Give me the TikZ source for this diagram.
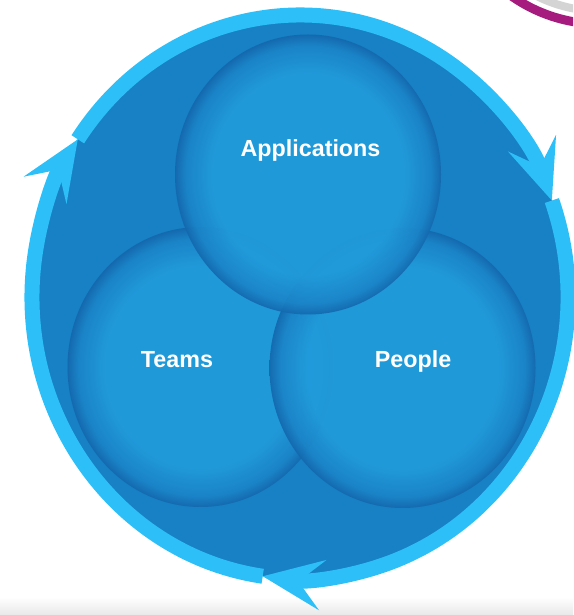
\documentclass[tikz,border=0pt]{standalone}
\usepackage{fontspec}
\setmainfont{Liberation Sans}
\usetikzlibrary{arrows.meta,shapes.geometric}
\definecolor{ringblue}{HTML}{2DBFF7}
\definecolor{deepblue}{HTML}{1880C4}
\definecolor{bubmid}{HTML}{219CDB}
\definecolor{bubrim}{HTML}{1B84C8}
\definecolor{bubedge}{HTML}{1468AD}
\definecolor{plum}{HTML}{A61C7E}
\definecolor{mist}{HTML}{D4D4D4}
\pgfdeclareradialshading{bubble}{\pgfpointorigin}{color(0bp)=(bubmid); color(18bp)=(bubmid); color(23bp)=(bubrim); color(25bp)=(bubedge); color(50bp)=(bubedge)}
\begin{document}
\begin{tikzpicture}
	    [x=1pt, y=1pt,
	     bubble/.style={ellipse, shade, shading=bubble, minimum width=266pt, minimum height=280pt, inner sep=0pt, fill opacity=0.92},
	     tag/.style={text=white, font=\bfseries\fontsize{23.3}{28}\selectfont, anchor=base, inner sep=0pt},
	     ring/.style={draw=ringblue, line width=15pt, -{Stealth[length=60pt, width=50pt, inset=24pt]}}]
	    % \draw[step=50,gray,very thin] (0,0) grid (573,615);
	    \useasboundingbox (0,0) rectangle (573,615);
	    \shade[bottom color=black!9, top color=white] (0,0) rectangle (573,18);
	    \begin{scope}
	      \clip (0,0) rectangle (573,615);
	      \draw[mist, line width=8pt] (600,745) circle[radius=141];
	      \draw[plum, line width=9pt] (600,745) circle[radius=154];
	    \end{scope}
	    \node[ellipse, fill=deepblue, minimum width=536pt, minimum height=564pt, inner sep=0pt] (field) at (300,318) {};
	    \path (field.center) ++(262:268 and 282) coordinate (tipB);
	    \path (field.center) ++(146:268 and 282) coordinate (tipL);
	    \path (field.center) ++(20:268 and 282)  coordinate (tipR);
	    \draw[ring] (tipB) arc[start angle=262, end angle=146, x radius=268, y radius=282];
	    \draw[ring] (tipL) arc[start angle=146, end angle=20, x radius=268, y radius=282];
	    \draw[ring] (tipR) arc[start angle=20, end angle=-98, x radius=268, y radius=282];
	    \node[bubble] (teams)  at (200.5,248) {};
	    \node[bubble] (people) at (402.5,247) {};
	    \node[bubble] (apps)   at (308,440.5) {};
	    \node[tag] (appslabel)   at (310.5,458.3) {Applications};
	    \node[tag] (teamslabel)  at (177,247)     {Teams};
	    \node[tag] (peoplelabel) at (413,247.3)   {People};
	\end{tikzpicture}
\end{document}
